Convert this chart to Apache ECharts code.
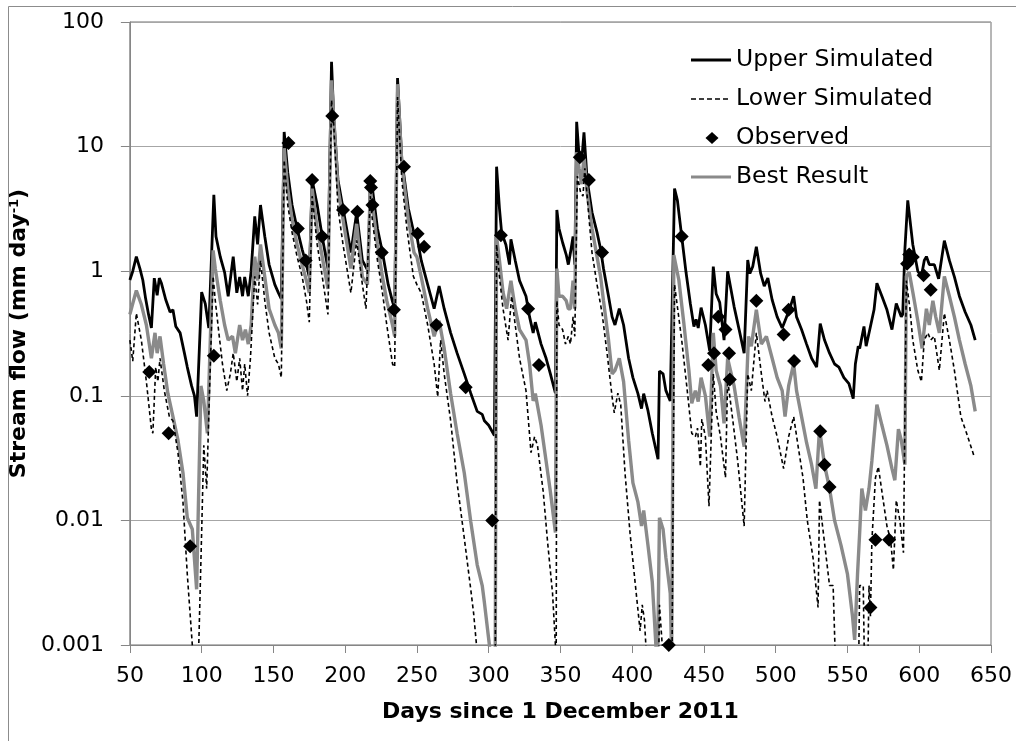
<!DOCTYPE html>
<html>
<head>
<meta charset="utf-8">
<title>Stream flow</title>
<script src="https://cdn.jsdelivr.net/npm/echarts@6/dist/echarts.min.js"></script>
<style>
  html, body { margin: 0; padding: 0; background: #ffffff; }
  #chart { width: 1016px; height: 741px; }
</style>
</head>
<body>
<div id="chart"></div>
<script>
// Days since 1 December 2011 and stream flow (mm/day) for each series
const upperDay = [50,52,54.5,57,59,61,63,65,67,69,70.5,72,75,78,80,82,85,88,90,93,95,96.5,100,102.5,105,108.5,110,113,116,118.5,122,124.5,126.5,128.5,130,132.5,134.5,137,139,141,144,147,151,153.5,155.5,157.5,160,163,166.5,170,173,175,177,180.5,184,188,190.5,192,195,198.5,204,208,212,216,217.5,219,222.5,226,230,233,234.5,236.5,239.5,244,248,250,253,257.5,262,265.5,269,273.5,278,283,287.5,292,295.5,297,300,304,305.5,307.5,309,312,314.5,315.5,318.5,321.5,326,328.5,331,332.5,336.5,340,343,346.5,347.5,349,351.5,354,355.5,357,358.8,360,361.3,363,364.8,366.4,368.6,372,375.5,378,380,383.5,386,388,391,394,397.5,400.5,404,406.5,408,411,414,418,419,421.5,423.5,426.5,429.5,431.5,434.5,437.5,440.5,443,444.5,446,448,451,454,456.5,458.5,461,464,466.5,471,474.5,478,480.5,482,484,486.5,489.5,492,494.5,497.5,501,504.5,506.5,509.5,512.5,514.5,518,521.5,525,528.5,531,534,537.5,541,544,547.5,551,554,555.5,557.5,558.5,561.5,563,566,568.5,570.5,574,577.5,581,584,587.5,588.5,590,592,595.5,599,601.5,603.5,605,607,610.5,613.5,617.5,621,624.5,628,632,636,639];
const upperFlow = [0.85,1.0,1.31,1.05,0.85,0.6,0.45,0.35,0.88,0.64,0.88,0.8,0.59,0.47,0.49,0.36,0.32,0.22,0.17,0.12,0.1,0.068,0.68,0.55,0.35,4.1,1.9,1.3,0.98,0.63,1.31,0.67,0.9,0.63,0.9,0.63,1.0,2.75,1.64,3.4,1.9,1.13,0.78,0.67,0.6,13.1,6.2,3.4,2.2,1.5,1.13,0.9,5.4,3.4,1.9,1.05,48,17.6,5.4,3.2,1.41,2.95,1.22,1.0,5.4,4.6,2.2,1.41,0.78,0.57,0.5,35.5,7.8,3.2,2.0,1.9,1.22,0.78,0.5,0.76,0.5,0.32,0.22,0.15,0.105,0.075,0.071,0.063,0.058,0.048,6.9,3.2,2.05,1.63,1.13,1.8,1.22,0.84,0.63,0.43,0.32,0.39,0.26,0.2,0.15,0.105,3.1,2.2,1.7,1.36,1.13,1.41,1.9,1.13,15.8,8.4,7.6,13,5.4,2.97,2.05,1.5,1.05,0.63,0.43,0.37,0.5,0.37,0.2,0.14,0.104,0.079,0.104,0.076,0.05,0.031,0.158,0.15,0.11,0.091,4.6,3.7,1.9,0.98,0.55,0.36,0.41,0.35,0.51,0.37,0.23,1.09,0.66,0.56,0.28,1.0,0.52,0.34,0.22,1.23,0.96,1.09,1.57,0.96,0.76,0.88,0.59,0.43,0.35,0.4,0.49,0.63,0.43,0.34,0.26,0.2,0.17,0.38,0.28,0.22,0.18,0.17,0.14,0.125,0.095,0.18,0.25,0.24,0.36,0.25,0.36,0.49,0.8,0.63,0.49,0.34,0.55,0.43,0.45,1.5,3.7,1.64,1.0,0.91,1.22,1.31,1.13,1.13,0.87,1.76,1.22,0.9,0.63,0.47,0.37,0.28];

const lowerDay = [50,52,54.5,58,61.5,65,66,68,69.5,71,74,77.5,80,83.5,87,90,93.5,96,98,100,101.5,103.5,105.5,108,109.5,112,114.5,117.5,120,122,124.5,126.5,128.5,130,132,134,137,139,141,144,147,151,153.5,155.5,157.5,160,163,166.5,170,173,175,177,180.5,184,188,190.5,192,195,198.5,204,208,212,214.5,217.5,219,222.5,226,229,233,234.5,236.5,239.5,243,247.5,250,253,257.5,262,264.5,266.5,269,273.5,278,283,287.5,289.5,291.5,295,304.5,305.5,307.5,310,313.5,316,318.5,321.5,326,329.5,332,334,338,341,344.5,346.5,347,347.5,349,351.5,353.5,355.5,357,358.8,360,361.8,364,365.7,367,369.3,372,375.5,379,382.5,386,387.5,390,392,395,398.5,402,405.5,407,408.5,410,413,418,419,421.5,424,427.5,429.5,434.5,438,441.5,444,445.5,447.5,448.5,451,453.5,456.5,458.5,461.5,465,466.5,470,473.5,478,480.5,483,486.5,490,492.5,494,497.5,501,505.5,509,512.5,515.5,519,522,526,529.5,530.5,534,537.5,540,541.5,545,557.5,558.5,561,562,564,565,566,567,569.5,571.5,574,577.5,580,582,584,586.5,589,591,593.5,595.5,599,601.5,603.5,606,608,610.5,614,617.5,621,624.5,629,633,638.5];
const lowerFlow = [0.28,0.19,0.46,0.28,0.13,0.054,0.05,0.17,0.13,0.2,0.11,0.068,0.063,0.035,0.014,0.0037,0.001,0.0004,0.001,0.008,0.04,0.018,0.11,0.91,0.58,0.32,0.18,0.11,0.15,0.22,0.13,0.2,0.11,0.18,0.1,0.2,0.91,0.54,1.22,0.58,0.32,0.2,0.18,0.14,7.8,3.4,2.05,1.31,0.91,0.58,0.39,4.0,1.64,0.91,0.45,23.6,15.2,3.2,1.64,0.67,1.77,0.78,0.5,4.0,2.55,1.22,0.67,0.37,0.18,0.17,25,5.4,2.2,0.91,0.78,0.67,0.37,0.18,0.098,0.28,0.15,0.063,0.02,0.0072,0.0028,0.0018,0.001,0.0003,0.0003,1.64,0.9,0.5,0.28,0.63,0.37,0.2,0.11,0.035,0.047,0.04,0.017,0.0068,0.0026,0.001,0.0004,0.58,0.37,0.34,0.26,0.3,0.26,0.43,0.3,5.8,4.3,4.0,6.7,3.2,1.41,0.78,0.46,0.22,0.098,0.073,0.105,0.085,0.024,0.0079,0.0032,0.0013,0.0021,0.0016,0.0008,0.0003,0.0003,0.0021,0.0008,0.0003,0.0003,0.78,0.28,0.12,0.05,0.047,0.055,0.027,0.065,0.047,0.013,0.15,0.075,0.047,0.022,0.135,0.065,0.03,0.009,0.15,0.11,0.32,0.15,0.09,0.11,0.068,0.047,0.026,0.047,0.068,0.04,0.022,0.01,0.005,0.002,0.0145,0.0066,0.003,0.003,0.0008,0.0003,0.0004,0.003,0.003,0.0005,0.0005,0.003,0.0017,0.0069,0.022,0.027,0.017,0.009,0.007,0.004,0.0145,0.01,0.0055,0.84,0.5,0.28,0.16,0.13,0.28,0.32,0.28,0.3,0.16,0.46,0.28,0.16,0.068,0.05,0.032];

const bestDay = [50,52,54.5,58,61.5,65,67.5,69,71,73.5,76.5,80,83.5,87,90,93.5,96.5,99.5,101.5,104,108,109.5,113,116,118.5,121.5,123.5,126.5,128.5,130.5,132.5,134.5,137,139,141,144,147,151,153.5,155.5,157.5,160,163,166.5,170,173,175,177,180.5,184,188,190.5,192,195,198.5,204,208,212,215.5,217.5,219,222.5,226,229,233,234.5,236.5,239.5,244,248,250,253,257.5,262,265.5,269,273.5,278,283,287.5,292,295.5,297,300.5,303,304.5,305.5,307.5,310,312.5,315.5,318.5,321.5,326,328.5,331,332.5,336.5,340,343,346.5,347.5,349,351.5,354,355.5,357,358.8,360,361.3,363,364.8,366.4,368.6,372,375.5,378,380,383.5,386,388,391,394,397.5,400.5,404,406.5,408,411,414,416.5,417.5,419,421.5,423.5,426.5,427.5,429,432.5,436,439.5,441.5,444,446,448,451,454,456.5,458.5,461.5,464,466.5,471,474.5,478,481,483,486.5,490,493.5,497.5,501,504.5,506.5,509,512.5,514.5,518,521.5,525,528,530.5,534,537.5,541,545.5,550,553.5,555,557,558.5,560,562.5,565,567,570.5,574,577.5,581,583,585.5,587.5,590,591,593,595.5,599,602,605,607,609.5,611.5,614,617.5,621,624.5,628,632,636,639];
const bestFlow = [0.45,0.55,0.7,0.54,0.37,0.2,0.32,0.22,0.3,0.18,0.104,0.068,0.044,0.024,0.0105,0.0085,0.0028,0.12,0.091,0.05,1.47,1.05,0.58,0.37,0.28,0.3,0.22,0.37,0.28,0.34,0.26,0.37,1.31,0.84,1.64,0.9,0.5,0.37,0.32,0.24,9.7,4.6,2.6,1.64,1.13,0.84,0.67,4.6,2.2,1.31,0.72,34,17.6,4.6,2.6,1.05,2.4,0.9,0.78,4.6,3.4,1.64,0.9,0.58,0.37,0.3,31.7,7.2,2.6,1.41,1.3,0.9,0.5,0.3,0.4,0.24,0.104,0.05,0.024,0.0098,0.0044,0.003,0.0022,0.001,0.0004,0.0004,1.9,1.22,0.68,0.5,0.84,0.5,0.34,0.28,0.18,0.091,0.104,0.058,0.03,0.017,0.008,1.05,0.63,0.63,0.58,0.5,0.5,0.84,0.5,9,6.7,5,8.4,4.3,2.2,1.31,0.9,0.58,0.28,0.15,0.16,0.2,0.13,0.044,0.02,0.014,0.009,0.012,0.0063,0.0032,0.001,0.0005,0.0105,0.0085,0.005,0.0026,0.0008,1.35,0.85,0.38,0.16,0.087,0.11,0.09,0.14,0.1,0.047,0.32,0.16,0.12,0.06,0.2,0.12,0.067,0.039,0.3,0.25,0.49,0.26,0.3,0.2,0.14,0.11,0.068,0.12,0.18,0.11,0.068,0.042,0.028,0.018,0.054,0.028,0.018,0.01,0.0063,0.0037,0.0017,0.0011,0.0037,0.008,0.018,0.012,0.018,0.03,0.085,0.058,0.04,0.026,0.021,0.054,0.044,0.028,0.91,0.98,0.68,0.4,0.24,0.5,0.37,0.58,0.43,0.32,0.91,0.63,0.43,0.28,0.18,0.12,0.075];

const observedDay = [63.5,77,92,108.5,160.5,167,172.5,177,184,191,198.5,208.5,217.5,218,219,225.5,234,241,250.5,255,263.5,284,302.5,308.5,327.5,335,363.5,369.8,379,425.5,434.5,453,457,460,465,467.5,468,486.5,505.5,509,512.8,531,534,537.5,566,569.5,579,591.5,593,595.5,603,608];
const observedFlow = [0.155,0.05,0.0062,0.21,10.7,2.2,1.22,5.4,1.9,17.6,3.1,3.0,5.3,4.7,3.4,1.41,0.49,6.9,2.0,1.57,0.37,0.117,0.01,1.94,0.5,0.177,8.2,5.4,1.41,0.001,1.9,0.177,0.22,0.43,0.34,0.22,0.135,0.58,0.31,0.49,0.19,0.052,0.028,0.0185,0.002,0.007,0.007,1.15,1.36,1.3,0.93,0.71];

const yTickLabels = ['0.001', '0.01', '0.1', '1', '10', '100'];
const seriesNames = ['Upper Simulated', 'Lower Simulated', 'Observed', 'Best Result'];

const zip = (days, flows) => days.map((d, i) => [d, flows[i]]);

const FONT = 'DejaVu Sans';
const axisGrey = '#868686';

// Legend sample icons, drawn in a 40x14 box (the leading moves pin the box size)
const BOX = 'M0,0M40,14';
const barIcon = h => 'path://' + BOX + 'M0,' + (7 - h / 2) + 'L40,' + (7 - h / 2) + 'L40,' + (7 + h / 2) + 'L0,' + (7 + h / 2) + 'Z';
const dashIcon = (h, dash, gap) => {
  let p = 'path://' + BOX;
  for (let x = 0; x < 40; x += dash + gap) {
    const x2 = Math.min(40, x + dash);
    p += 'M' + x + ',' + (7 - h / 2) + 'L' + x2 + ',' + (7 - h / 2) + 'L' + x2 + ',' + (7 + h / 2) + 'L' + x + ',' + (7 + h / 2) + 'Z';
  }
  return p;
};
const diamondIcon = 'path://' + BOX + 'M21,1L27.5,7L21,13L14.5,7Z';

const chart = echarts.init(document.getElementById('chart'), null, { renderer: 'canvas' });

chart.setOption({
  animation: false,
  backgroundColor: '#ffffff',
  graphic: [{
    type: 'rect',
    silent: true,
    shape: { x: 8.5, y: 6.5, width: 1100, height: 800 },
    style: { fill: 'none', stroke: '#8c8c8c', lineWidth: 1 }
  }],
  grid: {
    left: 115, right: 25, top: 22, bottom: 96,
    show: true, borderColor: '#6e6e6e', borderWidth: 1
  },
  legend: {
    orient: 'vertical',
    left: 686, top: 41,
    itemWidth: 40, itemHeight: 14, itemGap: 11,
    textStyle: { fontFamily: FONT, fontSize: 23.5, color: '#000', lineHeight: 28 },
    data: [
      { name: seriesNames[0], icon: barIcon(2.8) },
      { name: seriesNames[1], icon: dashIcon(1.6, 5, 3) },
      { name: seriesNames[2], icon: diamondIcon },
      { name: seriesNames[3], icon: barIcon(3.2) }
    ]
  },
  xAxis: {
    type: 'value',
    min: 50, max: 650, interval: 50,
    name: 'Days since 1 December 2011',
    nameLocation: 'middle', nameGap: 56,
    nameTextStyle: { fontFamily: FONT, fontWeight: 'bold', fontSize: 22, color: '#000' },
    axisLine: { show: true, onZero: false, lineStyle: { color: axisGrey, width: 1 } },
    axisTick: { show: true, length: 8, lineStyle: { color: axisGrey } },
    axisLabel: { fontFamily: FONT, fontSize: 22, color: '#000', margin: 20 },
    splitLine: { show: false }
  },
  yAxis: {
    type: 'log', logBase: 10,
    min: 0.001, max: 100,
    name: 'Stream flow (mm day{sup|-1})',
    nameLocation: 'middle', nameGap: 71, nameRotate: 90,
    nameTextStyle: {
      fontFamily: FONT, fontWeight: 'bold', fontSize: 22, color: '#000',
      rich: { sup: { fontFamily: FONT, fontWeight: 'bold', fontSize: 13, color: '#000', verticalAlign: 'top' } }
    },
    axisLine: { show: true, lineStyle: { color: axisGrey, width: 1 } },
    axisTick: { show: true, length: 9, lineStyle: { color: axisGrey } },
    axisLabel: {
      fontFamily: FONT, fontSize: 22, color: '#000', margin: 26,
      formatter: v => yTickLabels[Math.round(Math.log10(v)) + 3]
    },
    splitLine: { show: true, lineStyle: { color: '#a6a6a6', width: 1 } },
    minorTick: { show: false }
  },
  series: [
    {
      name: seriesNames[0], type: 'line', symbol: 'none',
      data: zip(upperDay, upperFlow),
      lineStyle: { color: '#000000', width: 2.8 },
      itemStyle: { color: '#000000' },
      z: 2
    },
    {
      name: seriesNames[3], type: 'line', symbol: 'none',
      data: zip(bestDay, bestFlow),
      lineStyle: { color: '#8a8a8a', width: 3.4 },
      itemStyle: { color: '#8a8a8a' },
      z: 3
    },
    {
      name: seriesNames[1], type: 'line', symbol: 'none',
      data: zip(lowerDay, lowerFlow),
      lineStyle: { color: '#000000', width: 1.6, type: [4, 3] },
      itemStyle: { color: '#000000' },
      z: 4
    },
    {
      name: seriesNames[2], type: 'scatter', symbol: 'diamond', symbolSize: 14,
      data: zip(observedDay, observedFlow),
      itemStyle: { color: '#000000', opacity: 1 },
      z: 5
    }
  ]
});
</script>
</body>
</html>
